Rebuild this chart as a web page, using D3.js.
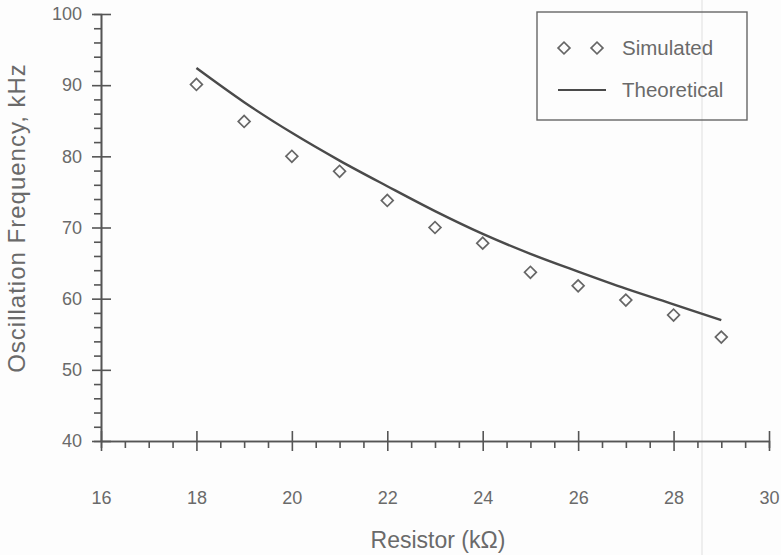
<!DOCTYPE html>
<html>
<head>
<meta charset="utf-8">
<script src="https://cdn.jsdelivr.net/npm/d3@7"></script>
<style>
  html, body { margin: 0; padding: 0; background: #fdfdfd; }
  svg { display: block; }
  text { font-family: "Liberation Sans", Arial, sans-serif; fill: #6a6a6a; }
</style>
</head>
<body>
<svg id="chart" width="781" height="555"></svg>
<script>
// Data
const resistorK = [18, 19, 20, 21, 22, 23, 24, 25, 26, 27, 28, 29];
const simulated = [90.1, 84.9, 80.0, 77.9, 73.8, 70.0, 67.8, 63.7, 61.8, 59.8, 57.7, 54.6];
const theoretical = [92.4, 87.6, 83.3, 79.4, 75.8, 72.3, 69.1, 66.3, 63.8, 61.4, 59.2, 57.0];
const xTicks = [16, 18, 20, 22, 24, 26, 28, 30];
const yTicks = [40, 50, 60, 70, 80, 90, 100];
const seriesNames = ["Simulated", "Theoretical"];
const xTitle = "Resistor (k\u03A9)";
const yTitle = "Oscillation Frequency, kHz";

const svg = d3.select("#chart");
const axisColor = "#555";

const x = d3.scaleLinear().domain([16, 30]).range([101, 769]);
const y = d3.scaleLinear().domain([40, 100]).range([441, 14]);

// faint scan artifact line
svg.append("line").attr("x1", 702).attr("x2", 702).attr("y1", 0).attr("y2", 555)
  .attr("stroke", "#e4e4e4").attr("stroke-width", 1.2);

function styleAxis(g) {
  g.selectAll(".domain").attr("stroke", axisColor).attr("stroke-width", 1.6);
  g.selectAll(".tick line").attr("stroke", axisColor).attr("stroke-width", 1.6);
  g.selectAll("text").attr("font-size", 18).attr("fill", "#6a6a6a")
    .attr("font-family", "Liberation Sans, Arial, sans-serif");
}

// Y axis: minor ticks outside (left), major ticks crossing the axis
const yMinor = d3.range(40, 100.01, 2).filter(v => v % 10 !== 0);
const gyMinor = svg.append("g").attr("transform", `translate(${x(16)},0)`)
  .call(d3.axisLeft(y).tickValues(yMinor).tickSize(7).tickFormat(""));
styleAxis(gyMinor);
const gy = svg.append("g").attr("transform", `translate(${x(16)},0)`)
  .call(d3.axisLeft(y).tickValues(yTicks).tickSize(0).tickPadding(19).tickFormat(d3.format("d")));
gy.selectAll(".tick").append("line").attr("x1", -9).attr("x2", 10);
styleAxis(gy);

// X axis: minor ticks outside (below), major ticks crossing the axis
const xMinor = d3.range(16, 30.01, 0.5).filter(v => v % 2 !== 0);
const gxMinor = svg.append("g").attr("transform", `translate(0,${y(40)})`)
  .call(d3.axisBottom(x).tickValues(xMinor).tickSize(7).tickFormat(""));
styleAxis(gxMinor);
const gx = svg.append("g").attr("transform", `translate(0,${y(40)})`)
  .call(d3.axisBottom(x).tickValues(xTicks).tickSize(0).tickPadding(50).tickFormat(d3.format("d")));
gx.selectAll(".tick").append("line").attr("y1", -10).attr("y2", 10);
styleAxis(gx);

// Axis titles
svg.append("text").attr("x", 438).attr("y", 548).attr("text-anchor", "middle")
  .attr("font-size", 23).text(xTitle);
svg.append("text").attr("transform", "translate(25,218) rotate(-90)")
  .attr("text-anchor", "middle").attr("font-size", 24).attr("letter-spacing", 1).text(yTitle);

// Theoretical line
const line = d3.line().x((d, i) => x(resistorK[i])).y(d => y(d)).curve(d3.curveMonotoneX);
svg.append("path").datum(theoretical).attr("d", line)
  .attr("fill", "none").attr("stroke", "#4a4a4a").attr("stroke-width", 2.4);

// Simulated diamonds
const diamond = d3.symbol().type(d3.symbolSquare).size(70);
svg.append("g").selectAll("path").data(simulated).join("path")
  .attr("d", diamond())
  .attr("transform", (d, i) => `translate(${x(resistorK[i])},${y(d)}) rotate(45)`)
  .attr("fill", "none").attr("stroke", "#666").attr("stroke-width", 1.7);

// Legend
const lg = svg.append("g");
lg.append("rect").attr("x", 537).attr("y", 12).attr("width", 210).attr("height", 108)
  .attr("fill", "none").attr("stroke", "#666").attr("stroke-width", 1.4);
[564, 597].forEach(cx => {
  lg.append("path").attr("d", diamond())
    .attr("transform", `translate(${cx},48) rotate(45)`)
    .attr("fill", "none").attr("stroke", "#666").attr("stroke-width", 1.7);
});
lg.append("text").attr("x", 622).attr("y", 55).attr("font-size", 20.5).text(seriesNames[0]);
lg.append("line").attr("x1", 558).attr("x2", 606).attr("y1", 90).attr("y2", 90)
  .attr("stroke", "#4a4a4a").attr("stroke-width", 2);
lg.append("text").attr("x", 622).attr("y", 97).attr("font-size", 20.5).text(seriesNames[1]);
</script>
</body>
</html>
